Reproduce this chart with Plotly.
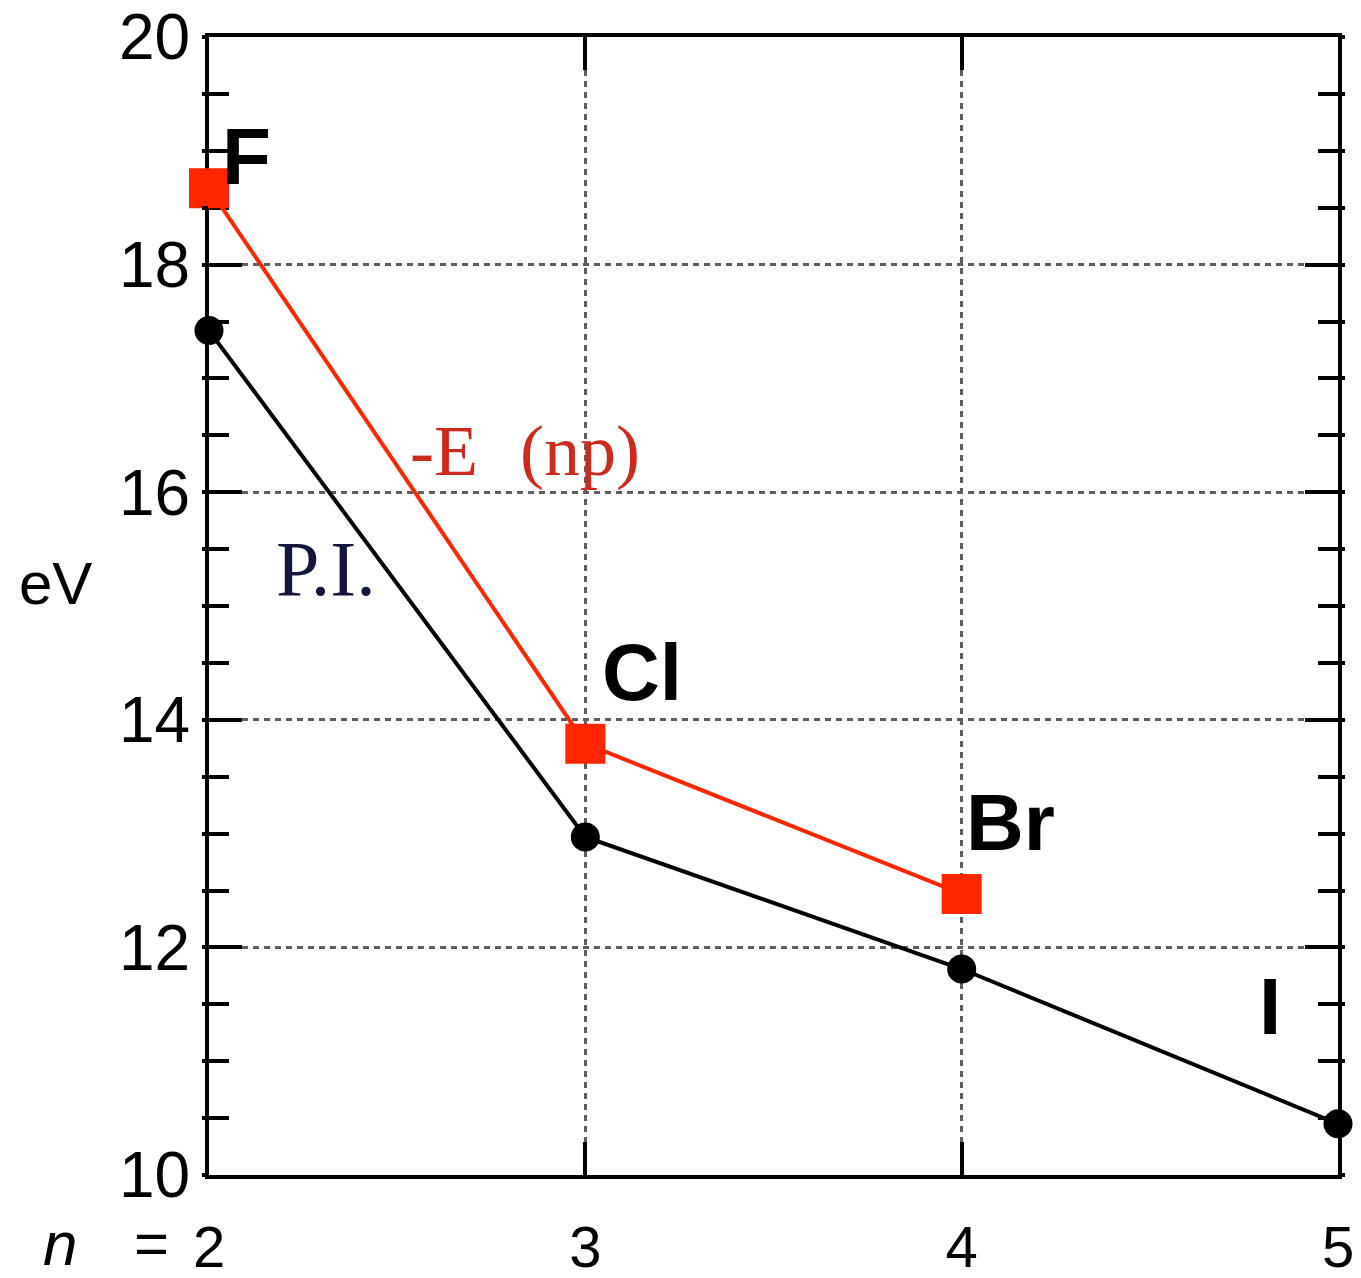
import plotly.graph_objects as go

# Halogen valence-shell energies versus principal quantum number n
n_pi = [2, 3, 4, 5]
pi_ev = [17.42, 12.97, 11.81, 10.45]          # first ionisation potential
n_orb = [2, 3, 4]
orb_ev = [18.67, 13.79, 12.47]                # -E(np) orbital energy
elements = ["F", "Cl", "Br", "I"]
x_ticks = [2, 3, 4, 5]
x_tick_text = ["2", "3", "4", "5"]
y_ticks = [10, 12, 14, 16, 18, 20]

RED = "#ff2600"
SANS = "Liberation Sans, Arial, sans-serif"
SERIF = "Liberation Serif, Times New Roman, serif"

fig = go.Figure()

fig.add_trace(go.Scatter(
    x=n_pi, y=pi_ev, mode="lines+markers",
    line=dict(color="black", width=4),
    marker=dict(symbol="circle", size=29, color="black"),
    cliponaxis=False, showlegend=False,
))
fig.add_trace(go.Scatter(
    x=n_orb, y=orb_ev, mode="lines+markers",
    line=dict(color=RED, width=4),
    marker=dict(symbol="square", size=40, color=RED),
    cliponaxis=False, showlegend=False,
))
# short outward tick stubs on both vertical axes
fig.add_trace(go.Scatter(x=[2], y=[15], yaxis="y2", mode="markers",
                         marker=dict(opacity=0), showlegend=False, hoverinfo="skip"))

label_font = dict(family=SANS, size=80, color="black")
element_pos = [(2.10, 18.95), (3.15, 14.42), (4.13, 13.10), (4.82, 11.48)]
for name, (xe, ye) in zip(elements, element_pos):
    fig.add_annotation(x=xe, y=ye, text="<b>%s</b>" % name, showarrow=False,
                       xanchor="center", yanchor="middle", font=label_font)

fig.add_annotation(x=2.84, y=16.36, text="-E\u2002\u200a(np)", showarrow=False,
                   xanchor="center", font=dict(family=SERIF, size=72, color="#cc2a1e"))
fig.add_annotation(x=2.31, y=15.33, text="P.I.", showarrow=False,
                   xanchor="center", font=dict(family=SERIF, size=78, color="#14143c"))
fig.add_annotation(xref="paper", yref="y", x=-0.136, y=15.2, text="eV", showarrow=False,
                   xanchor="center", yanchor="middle",
                   font=dict(family=SANS, size=60, color="black"))
# "n =" prefix in front of the first x tick label
fig.add_annotation(xref="paper", yref="paper", x=-0.132, y=-0.0598, text="<i>n</i>",
                   showarrow=False, xanchor="center", yanchor="middle",
                   font=dict(family=SANS, size=62, color="black"))
fig.add_annotation(xref="paper", yref="paper", x=-0.0505, y=-0.0598, text="=",
                   showarrow=False, xanchor="center", yanchor="middle",
                   font=dict(family=SANS, size=60, color="black"))

axis_common = dict(showline=True, linecolor="black", linewidth=4, mirror="ticks",
                   ticks="inside", tickcolor="black", tickwidth=4, ticklen=33,
                   zeroline=False, layer="below traces", automargin=False)

fig.update_layout(
    width=1361, height=1278,
    margin=dict(l=209, r=23, t=37, b=103),
    paper_bgcolor="white", plot_bgcolor="white",
    xaxis=dict(range=[2, 5], tickvals=x_ticks, ticktext=x_tick_text,
               showgrid=True, gridcolor="#5e5e5e", gridwidth=3, griddash="6px,5px",
               tickfont=dict(family=SANS, size=58, color="black"),
               ticklabelstandoff=18, **axis_common),
    yaxis=dict(range=[10, 20], tickvals=y_ticks,
               showgrid=True, gridcolor="#5e5e5e", gridwidth=3, griddash="6px,5px",
               minor=dict(dtick=0.5, ticks="inside", ticklen=20, tickwidth=4,
                          tickcolor="black", showgrid=False),
               tickfont=dict(family=SANS, size=64, color="black"),
               ticklabelstandoff=2, **axis_common),
    yaxis2=dict(range=[10, 20], overlaying="y", side="left", dtick=0.5, tick0=10,
                ticks="outside", ticklen=6, tickwidth=4, tickcolor="black",
                mirror="allticks", showline=False, showticklabels=False,
                showgrid=False, zeroline=False, automargin=False),
)

fig.write_html("out.html")
